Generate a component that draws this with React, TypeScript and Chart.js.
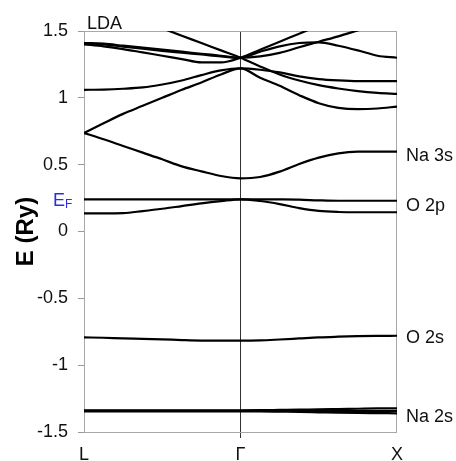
import React, { useEffect, useRef } from 'react';
import { Chart, registerables } from 'chart.js';

Chart.register(...registerables);

// k-path positions (L = 0, Γ = 1, X = 2)
const kPath = [0, 0.125, 0.25, 0.375, 0.5, 0.625, 0.75, 0.875, 1, 1.125, 1.25, 1.375, 1.5, 1.625, 1.75, 1.875, 2];
const kTickPos = [0, 1, 2];
const kTickLabels = ['L', 'Γ', 'X'];
const eTicks = [-1.5, -1, -0.5, 0, 0.5, 1, 1.5];

// Energies (Ry) of each band along the path
const bandNa3s = [0.737, 0.69, 0.64, 0.59, 0.54, 0.487, 0.45, 0.415, 0.398, 0.408, 0.448, 0.505, 0.553, 0.585, 0.597, 0.597, 0.597];
const bandUp1 = [0.737, 0.81, 0.88, 0.94, 1.0, 1.06, 1.115, 1.175, 1.22, 1.21, 1.19, 1.16, 1.14, 1.13, 1.125, 1.125, 1.125];
const bandUp2 = [1.06, 1.062, 1.068, 1.078, 1.1, 1.13, 1.17, 1.205, 1.22, 1.15, 1.09, 1.02, 0.96, 0.925, 0.915, 0.92, 0.935];
const bandUp3 = [1.41, 1.405, 1.39, 1.375, 1.36, 1.345, 1.33, 1.315, 1.3, 1.31, 1.336, 1.378, 1.42, 1.46, 1.505, 1.55, 1.59];
const bandUp4 = [1.4, 1.385, 1.365, 1.34, 1.315, 1.29, 1.265, 1.265, 1.3, 1.36, 1.42, 1.48, 1.54, 1.6, 1.66, 1.72, 1.78];
const bandUp5 = [1.405, 1.4, 1.383, 1.367, 1.352, 1.338, 1.324, 1.31, 1.3, 1.345, 1.385, 1.41, 1.415, 1.39, 1.355, 1.315, 1.3];
const bandUp6 = [1.74, 1.685, 1.63, 1.575, 1.52, 1.465, 1.41, 1.355, 1.3, 1.235, 1.175, 1.13, 1.095, 1.07, 1.05, 1.037, 1.03];
const bandO2pTop = [0.241, 0.241, 0.241, 0.241, 0.241, 0.241, 0.241, 0.241, 0.241, 0.241, 0.24, 0.238, 0.233, 0.23, 0.23, 0.23, 0.23];
const bandO2pLow = [0.136, 0.136, 0.138, 0.153, 0.17, 0.19, 0.21, 0.227, 0.241, 0.228, 0.205, 0.175, 0.154, 0.146, 0.144, 0.144, 0.144];
const bandO2s = [-0.792, -0.795, -0.8, -0.803, -0.807, -0.812, -0.816, -0.817, -0.817, -0.815, -0.808, -0.8, -0.792, -0.787, -0.783, -0.781, -0.78];
const bandNa2sA = [-1.338, -1.338, -1.338, -1.338, -1.338, -1.338, -1.338, -1.338, -1.338, -1.337, -1.335, -1.333, -1.33, -1.328, -1.326, -1.324, -1.323];
const bandNa2sB = [-1.342, -1.342, -1.342, -1.342, -1.342, -1.342, -1.342, -1.342, -1.342, -1.342, -1.342, -1.342, -1.342, -1.342, -1.343, -1.343, -1.343];
const bandNa2sC = [-1.345, -1.345, -1.345, -1.345, -1.345, -1.345, -1.345, -1.345, -1.345, -1.346, -1.348, -1.35, -1.353, -1.356, -1.358, -1.359, -1.36];

const fermiEnergy = 0.241;
const levelLabels = ['Na 3s', 'O 2p', 'O 2s', 'Na 2s'];
const levelLabelE = [0.573, 0.198, -0.79, -1.381];

const FONT = "'Liberation Sans', Arial, Helvetica, sans-serif";

const allBands = [
  bandNa3s, bandUp1, bandUp2, bandUp3, bandUp4, bandUp5, bandUp6,
  bandO2pTop, bandO2pLow, bandO2s, bandNa2sA, bandNa2sB, bandNa2sC,
];

const decorPlugin = {
  id: 'decor',
  beforeDatasetsDraw(chart: any) {
    const { ctx, chartArea: a } = chart;
    ctx.save();
    ctx.strokeStyle = '#a8a8a8';
    ctx.lineWidth = 1;
    ctx.strokeRect(a.left + 0.5, a.top + 0.5, a.right - a.left - 1, a.bottom - a.top);
    ctx.restore();
  },
  afterDraw(chart: any) {
    const { ctx, chartArea: a } = chart;
    const ys = chart.scales.y;
    ctx.save();
    ctx.fillStyle = '#111';
    // LDA
    ctx.font = `18px ${FONT}`;
    ctx.textAlign = 'left';
    ctx.textBaseline = 'alphabetic';
    ctx.fillText('LDA', a.left + 3, a.top - 2);
    // level labels on the right
    ctx.font = `18px ${FONT}`;
    ctx.textBaseline = 'middle';
    levelLabels.forEach((t, i) => {
      ctx.fillText(t, a.right + 9, ys.getPixelForValue(levelLabelE[i]) + 1);
    });
    // E_F label
    const yF = ys.getPixelForValue(fermiEnergy);
    ctx.fillStyle = '#2b2bea';
    ctx.font = `18px ${FONT}`;
    ctx.textAlign = 'left';
    ctx.textBaseline = 'alphabetic';
    ctx.fillText('E', 53, yF + 7);
    ctx.font = `12px ${FONT}`;
    ctx.fillText('F', 65, yF + 9);
    // y title
    ctx.fillStyle = '#000';
    ctx.translate(26, (a.top + a.bottom) / 2);
    ctx.rotate(-Math.PI / 2);
    ctx.font = `bold 24px ${FONT}`;
    ctx.textAlign = 'center';
    ctx.textBaseline = 'middle';
    ctx.fillText('E (Ry)', 0, 0);
    ctx.restore();
  },
};

export default function App() {
  const canvasRef = useRef<HTMLCanvasElement | null>(null);

  useEffect(() => {
    const canvas = canvasRef.current;
    if (!canvas) return;
    const chart = new Chart(canvas, {
      type: 'line',
      data: {
        datasets: allBands.map((b) => ({
          data: kPath.map((x, i) => ({ x, y: b[i] })),
          borderColor: '#000',
          borderWidth: 2.2,
          pointRadius: 0,
          fill: false,
          cubicInterpolationMode: 'monotone' as const,
        })),
      },
      options: {
        animation: false,
        responsive: true,
        maintainAspectRatio: false,
        layout: { padding: { top: 31, right: 59, left: 0, bottom: 0 } },
        plugins: { legend: { display: false }, tooltip: { enabled: false } },
        scales: {
          x: {
            type: 'linear',
            min: 0,
            max: 2,
            afterBuildTicks: (s: any) => {
              s.ticks = kTickPos.map((v) => ({ value: v }));
            },
            afterFit: (s: any) => {
              s.height = 29;
            },
            ticks: {
              callback: (v: any) => {
                const i = kTickPos.indexOf(Number(v));
                return i >= 0 ? kTickLabels[i] : '';
              },
              font: { family: FONT, size: 18 },
              color: '#111',
              padding: 6,
              maxRotation: 0,
              autoSkip: false,
            },
            grid: {
              color: (c: any) => (c.tick && c.tick.value === 1 ? '#333' : 'rgba(0,0,0,0)'),
              lineWidth: 1,
              tickLength: 6,
              drawOnChartArea: true,
              drawTicks: true,
            },
            border: { display: false },
          },
          y: {
            type: 'linear',
            min: -1.5,
            max: 1.5,
            afterBuildTicks: (s: any) => {
              s.ticks = eTicks.map((v) => ({ value: v }));
            },
            afterFit: (s: any) => {
              s.width = 84;
            },
            ticks: {
              callback: (v: any) => String(v),
              font: { family: FONT, size: 18 },
              color: '#111',
              padding: 10,
            },
            grid: {
              drawOnChartArea: false,
              color: '#999',
              tickLength: 6,
            },
            border: { display: false },
          },
        },
      },
      plugins: [decorPlugin],
    });
    return () => chart.destroy();
  }, []);

  return (
    <div style={{ position: 'fixed', left: 0, top: 0, width: 456, height: 461, background: '#fff' }}>
      <canvas ref={canvasRef} />
    </div>
  );
}
